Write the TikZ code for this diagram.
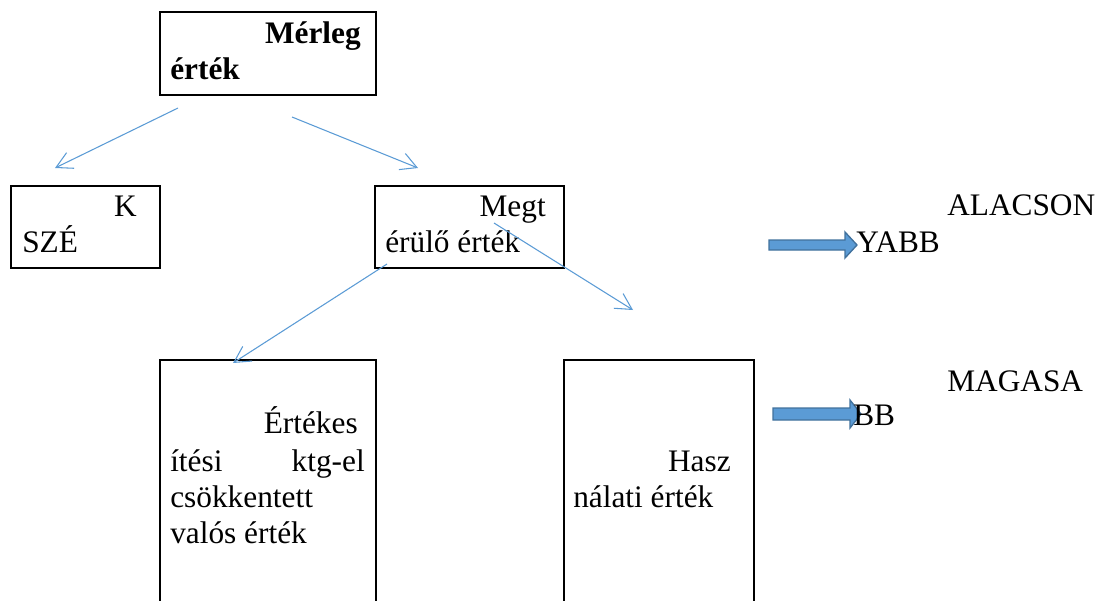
\documentclass[tikz,border=0pt]{standalone}
\usepackage{fontspec}
\setmainfont{Liberation Serif}
\usetikzlibrary{arrows.meta,fit}
\definecolor{lineblue}{HTML}{5B9BD5}
\definecolor{blockfill}{HTML}{5B9BD5}
\definecolor{blockdraw}{HTML}{41719C}
\begin{document}
\begin{tikzpicture}[x=0.75pt,y=-0.75pt,
  box/.style={draw=black,line width=1.5pt,inner sep=0pt},
  conn/.style={draw=lineblue,line width=0.8pt,-{Straight Barb[length=12pt,width=13pt,line width=0.8pt]}},
  blockarrow/.style={fill=blockfill,draw=blockdraw,line width=1pt},
  txt/.style={inner sep=0pt,font=\fontsize{23.5}{27}\selectfont},
  btxt/.style={txt,font=\fontsize{23.5}{27}\selectfont\bfseries}]
\useasboundingbox (0,0) rectangle (1105,600);
\clip (0,0) rectangle (1105,600);
% boxes
\node[box,fit={(160,12) (376,95)}] (merleg) {};
\node[box,fit={(11,186) (160,268)}] (kszebox) {};
\node[box,fit={(375,186) (564,268)}] (megtbox) {};
\node[box,fit={(160,360) (376,610)}] (ertbox) {};
\node[box,fit={(564,360) (754,610)}] (haszbox) {};
% texts
\node[btxt,anchor=base east] (t1a) at (361,43) {Mérleg};
\node[btxt,anchor=base west] (t1b) at (170,79) {érték};
\node[txt,anchor=base east] (t2a) at (137,216) {K};
\node[txt,anchor=base west] (t2b) at (22,252) {SZÉ};
\node[txt,anchor=base east] (t3a) at (546,216) {Megt};
\node[txt,anchor=base west] (t3b) at (385,252) {érülő érték};
\node[txt,anchor=base east] (t4a) at (358,433) {Értékes};
\node[txt,anchor=base west] (t4b) at (170,471) {ítési};
\node[txt,anchor=base east] (t4c) at (365,471) {ktg-el};
\node[txt,anchor=base west] (t4d) at (170,507) {csökkentett};
\node[txt,anchor=base west] (t4e) at (170,543) {valós érték};
\node[txt,anchor=base east] (t5a) at (731,471) {Hasz};
\node[txt,anchor=base west] (t5b) at (573,507) {nálati érték};
% connector endpoints
\coordinate (a1s) at (178,108); \coordinate (a1e) at (55,168);
\coordinate (a2s) at (292,117); \coordinate (a2e) at (418,168);
\coordinate (a3s) at (387,264); \coordinate (a3e) at (233,363);
\coordinate (a4s) at (494,223); \coordinate (a4e) at (633,310);
\draw[conn] (a1s) -- (a1e);
\draw[conn] (a2s) -- (a2e);
\draw[conn] (a3s) -- (a3e);
\draw[conn] (a4s) -- (a4e);
% block arrows
\draw[blockarrow] (769,240) -- (845,240) -- (845,232) -- (857,245) -- (845,258) -- (845,250) -- (769,250) -- cycle;
\draw[blockarrow] (773,408) -- (850,408) -- (850,400) -- (861,414) -- (850,428) -- (850,420) -- (773,420) -- cycle;
% right texts
\node[txt,anchor=base west] (t6a) at (947,215) {ALACSON};
\node[txt,anchor=base west] (t6b) at (856,252) {YABB};
\node[txt,anchor=base west] (t7a) at (947,391) {MAGASA};
\node[txt,anchor=base west] (t7b) at (853,425) {BB};
\end{tikzpicture}
\end{document}
